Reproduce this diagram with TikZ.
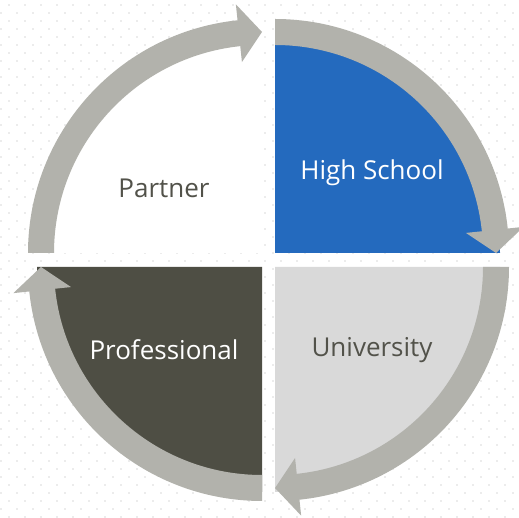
\documentclass[tikz,border=0pt]{standalone}
\usepackage{fontspec}
\setmainfont{Open Sans}
\usetikzlibrary{calc}
\definecolor{arrowgray}{RGB}{178,178,172}
\definecolor{hsblue}{RGB}{36,106,190}
\definecolor{profdark}{RGB}{78,78,68}
\definecolor{unilight}{RGB}{217,217,217}
\definecolor{txtgray}{RGB}{82,82,74}
\definecolor{dotgray}{RGB}{236,236,236}
\tikzset{
  cyclearrow/.style={fill=arrowgray,draw=none},
  lbl/.style={font=\fontsize{26}{30}\selectfont,inner sep=0pt},
}
\begin{document}
\begin{tikzpicture}[x=1pt,y=1pt]
\useasboundingbox (0,0) rectangle (519,518);
\fill[white] (0,0) rectangle (519,518);
% dotted background
\foreach \r in {0,...,64}{
  \pgfmathsetmacro{\yy}{518-5-8*\r}
  \pgfmathsetmacro{\off}{mod(\r,2)==0 ? 9 : 1}
  \foreach \c in {0,...,32}{
    \fill[dotgray] ({\off+16*\c-1},{\yy-1}) rectangle ++(2,2);
  }
}
% quadrant centres
\coordinate (ctr) at (275,265);
\coordinate (cbr) at (275,251);
\coordinate (cbl) at (262,251);
\coordinate (ctl) at (262,265);
% quadrants
\fill[hsblue] (ctr) -- ++(0:225) arc (0:90:225) -- cycle;
\fill[unilight] (cbr) -- ++(-90:225) arc (-90:0:225) -- cycle;
\fill[profdark] (cbl) -- ++(180:225) arc (180:270:225) -- cycle;
\fill[white] (ctl) -- ++(90:225) arc (90:180:225) -- cycle;
% circular arrows
\foreach \cc/\s in {ctr/90, cbr/0, cbl/270, ctl/180}{
  \pgfmathsetmacro{\e}{\s-90}
  \pgfmathsetmacro{\b}{\s-84}
  \fill[cyclearrow] ($(\cc)+(\s:234)$) arc (\s:\b:234)
     -- ($(\cc)+(\b:250)$) -- ($(\cc)+(\e:221)$) -- ($(\cc)+(\b:192)$)
     -- ($(\cc)+(\b:208)$) arc (\b:\s:208) -- cycle;
}
% labels
\node[lbl,text=txtgray] (partner) at (164,330) {Partner};
\node[lbl,text=white] (hs) at (372,345) {High School};
\node[lbl,text=white] (prof) at (164,168) {Professional};
\node[lbl,text=txtgray] (uni) at (372,168) {University};
\end{tikzpicture}
\end{document}
